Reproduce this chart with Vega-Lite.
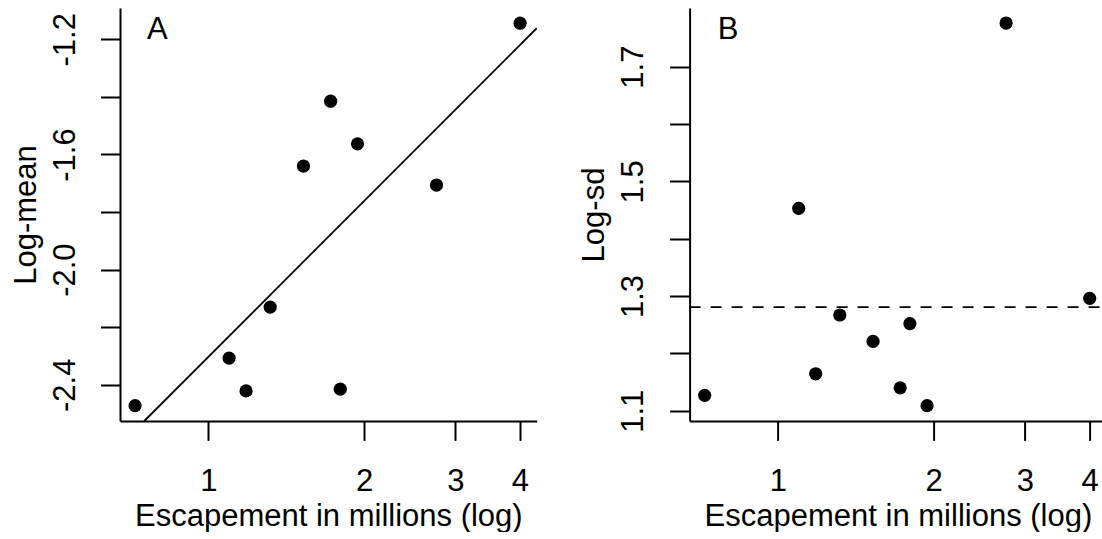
{
  "$schema": "https://vega.github.io/schema/vega-lite/v6.json",
  "background": "white",
  "padding": {"left": 10, "top": 8, "right": 0, "bottom": 0},
  "datasets": {
    "pts": [
      {"esc": 0.722, "logmean": -2.472, "logsd": 1.127},
      {"esc": 1.097, "logmean": -2.307, "logsd": 1.453},
      {"esc": 1.183, "logmean": -2.421, "logsd": 1.1645},
      {"esc": 1.317, "logmean": -2.130, "logsd": 1.267},
      {"esc": 1.527, "logmean": -1.640, "logsd": 1.221},
      {"esc": 1.723, "logmean": -1.415, "logsd": 1.140},
      {"esc": 1.799, "logmean": -2.415, "logsd": 1.252},
      {"esc": 1.942, "logmean": -1.563, "logsd": 1.109},
      {"esc": 2.760, "logmean": -1.706, "logsd": 1.776},
      {"esc": 4.003, "logmean": -1.144, "logsd": 1.296}
    ],
    "fitA": [
      {"esc": 0.7521, "logmean": -2.5256},
      {"esc": 4.31, "logmean": -1.1615}
    ],
    "meanB": [
      {"esc": 0.6752, "logsd": 1.2807},
      {"esc": 4.31, "logsd": 1.2807}
    ],
    "labA": [{"esc": 0.7613, "logmean": -1.1982, "label": "A"}],
    "labB": [{"esc": 0.7653, "logsd": 1.7483, "label": "B"}]
  },
  "hconcat": [
    {
      "width": 416.7,
      "height": 413,
      "encoding": {
        "x": {
          "field": "esc", "type": "quantitative",
          "scale": {"type": "log", "domain": [0.6752, 4.31], "nice": false, "zero": false},
          "axis": {
            "title": "Escapement in millions (log)",
            "values": [1, 2, 3, 4],
            "format": "d",
            "labelBaseline": "alphabetic",
            "labelPadding": 50,
            "tickSize": 19.4,
            "titleX": 208.35,
            "titleY": 104.4,
            "titleBaseline": "alphabetic",
            "titleAlign": "center"
          }
        },
        "y": {
          "field": "logmean", "type": "quantitative",
          "scale": {"domain": [-2.5256, -1.0912], "nice": false, "zero": false},
          "axis": {
            "title": "Log-mean",
            "values": [-2.4, -2.2, -2.0, -1.8, -1.6, -1.4, -1.2],
            "labelExpr": "abs(datum.value + 2.4) < 0.01 || abs(datum.value + 2.0) < 0.01 || abs(datum.value + 1.6) < 0.01 || abs(datum.value + 1.2) < 0.01 ? '-' + format(abs(datum.value), '.1f') : ''",
            "labelAngle": -90,
            "labelAlign": "center",
            "labelBaseline": "middle",
            "labelPadding": 35,
            "tickSize": 19.5,
            "titleAngle": -90,
            "titleX": -84.6,
            "titleY": 206.5,
            "titleBaseline": "alphabetic",
            "titleAlign": "center"
          }
        }
      },
      "layer": [
        {
          "data": {"name": "pts"},
          "mark": {"type": "circle", "size": 175, "color": "black", "opacity": 1}
        },
        {
          "data": {"name": "fitA"},
          "mark": {"type": "line", "color": "black", "strokeWidth": 1.8}
        },
        {
          "data": {"name": "labA"},
          "mark": {"type": "text", "align": "left", "baseline": "alphabetic", "fontSize": 31, "font": "Liberation Sans", "color": "black"},
          "encoding": {
            "text": {"field": "label"}
          }
        }
      ]
    },
    {
      "width": 416.7,
      "height": 413,
      "encoding": {
        "x": {
          "field": "esc", "type": "quantitative",
          "scale": {"type": "log", "domain": [0.6752, 4.31], "nice": false, "zero": false},
          "axis": {
            "title": "Escapement in millions (log)",
            "values": [1, 2, 3, 4],
            "format": "d",
            "labelBaseline": "alphabetic",
            "labelPadding": 50,
            "tickSize": 19.4,
            "titleX": 208.35,
            "titleY": 104.4,
            "titleBaseline": "alphabetic",
            "titleAlign": "center"
          }
        },
        "y": {
          "field": "logsd", "type": "quantitative",
          "scale": {"domain": [1.0822, 1.8022], "nice": false, "zero": false},
          "axis": {
            "title": "Log-sd",
            "values": [1.1, 1.2, 1.3, 1.4, 1.5, 1.6, 1.7],
            "labelExpr": "abs(datum.value - 1.1) < 0.01 || abs(datum.value - 1.3) < 0.01 || abs(datum.value - 1.5) < 0.01 || abs(datum.value - 1.7) < 0.01 ? format(datum.value, '.1f') : ''",
            "labelAngle": -90,
            "labelAlign": "center",
            "labelBaseline": "middle",
            "labelPadding": 36,
            "tickSize": 20,
            "titleAngle": -90,
            "titleX": -85.9,
            "titleY": 206.5,
            "titleBaseline": "alphabetic",
            "titleAlign": "center"
          }
        }
      },
      "layer": [
        {
          "data": {"name": "pts"},
          "mark": {"type": "circle", "size": 175, "color": "black", "opacity": 1}
        },
        {
          "data": {"name": "meanB"},
          "mark": {"type": "line", "color": "black", "strokeWidth": 1.8, "strokeDash": [11, 10]}
        },
        {
          "data": {"name": "labB"},
          "mark": {"type": "text", "align": "left", "baseline": "alphabetic", "fontSize": 31, "font": "Liberation Sans", "color": "black"},
          "encoding": {
            "text": {"field": "label"}
          }
        }
      ]
    }
  ],
  "spacing": 152.6,
  "bounds": "flush",
  "config": {
    "view": {"stroke": null},
    "font": "Liberation Sans",
    "axis": {
      "grid": false,
      "domainColor": "black",
      "domainWidth": 2,
      "tickColor": "black",
      "tickWidth": 2,
      "labelColor": "black",
      "labelFont": "Liberation Sans",
      "labelFontSize": 31,
      "labelFlush": false,
      "labelOverlap": false,
      "titleColor": "black",
      "titleFont": "Liberation Sans",
      "titleFontSize": 31,
      "titleFontWeight": "normal"
    }
  }
}
